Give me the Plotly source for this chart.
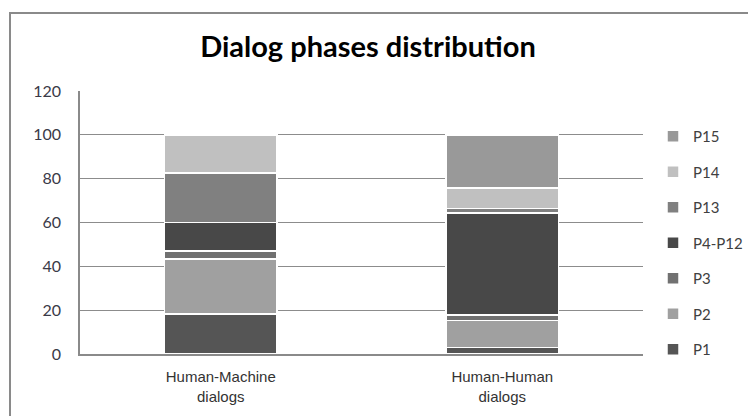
import plotly.graph_objects as go

categories = ["Human-Machine<br>dialogs", "Human-Human<br>dialogs"]
series_names = ["P1", "P2", "P3", "P4-P12", "P13", "P14", "P15"]
p1 = [18.2, 3.0]
p2 = [25.1, 12.2]
p3 = [3.8, 2.7]
p4_p12 = [12.8, 46.4]
p13 = [22.6, 2.0]
p14 = [17.5, 9.4]
p15 = [0.0, 24.3]
y_ticks = [0, 20, 40, 60, 80, 100, 120]

values = [p1, p2, p3, p4_p12, p13, p14, p15]
colors = ["#555555", "#a0a0a0", "#717171", "#484848", "#808080", "#c0c0c0", "#999999"]

# page body has an 8px margin, so figure coords = picture coords - 8
L, T, W, H = 72, 83, 563, 263
B0 = T + H  # y pixel of value 0

fig = go.Figure()
n = len(series_names)
for i, (name, vals, col) in enumerate(zip(series_names, values, colors)):
    fig.add_trace(go.Bar(
        x=categories, y=vals, name=name, legendgroup=name, legendrank=n - i,
        marker=dict(color=col, line=dict(color="white", width=1.5)),
    ))

fig.update_layout(
    barmode="stack",
    bargap=0.6,
    width=756, height=416,
    margin=dict(l=L, r=756 - L - W, t=T, b=416 - B0, autoexpand=False),
    paper_bgcolor="white", plot_bgcolor="white",
    title=dict(text="<b>Dialog phases distribution</b>", x=360/756, xanchor="center",
               y=1 - 39/416, yanchor="middle",
               font=dict(family="Lato", size=29, color="black")),
    xaxis=dict(showline=True, linecolor="#8a8a8a", linewidth=2, ticks="",
               ticklabelstandoff=8,
               tickfont=dict(family="Liberation Sans", size=15, color="#333333"),
               showgrid=False, automargin=False),
    yaxis=dict(range=[0, 120], tickvals=y_ticks, showgrid=True, gridcolor="#8c8c8c",
               gridwidth=1, showline=True, linecolor="#8a8a8a", linewidth=1.5,
               ticks="", ticklabelstandoff=14, automargin=False,
               tickfont=dict(family="Lato", size=16, color="#3a3a48"), zeroline=False),
    legend=dict(x=(645 - L) / W, xanchor="left", y=(B0 - 112) / H, yanchor="top",
                traceorder="grouped", tracegroupgap=13,
                font=dict(family="Lato", size=15, color="#404040"),
                itemwidth=30, bgcolor="rgba(0,0,0,0)"),
    showlegend=True,
)

# outer chart frame (top and left edges visible), drawn as thin filled bands
def px_x(v):
    return (v - L) / W

def px_y(v):
    return (B0 - v) / H

fig.add_shape(type="rect", xref="paper", yref="paper",
              x0=px_x(1), x1=px_x(760), y0=px_y(6), y1=px_y(4),
              line=dict(width=0), fillcolor="#8a8a8a", layer="above")
fig.add_shape(type="rect", xref="paper", yref="paper",
              x0=px_x(1), x1=px_x(3), y0=px_y(420), y1=px_y(4),
              line=dict(width=0), fillcolor="#8a8a8a", layer="above")

fig.write_html("out.html")
